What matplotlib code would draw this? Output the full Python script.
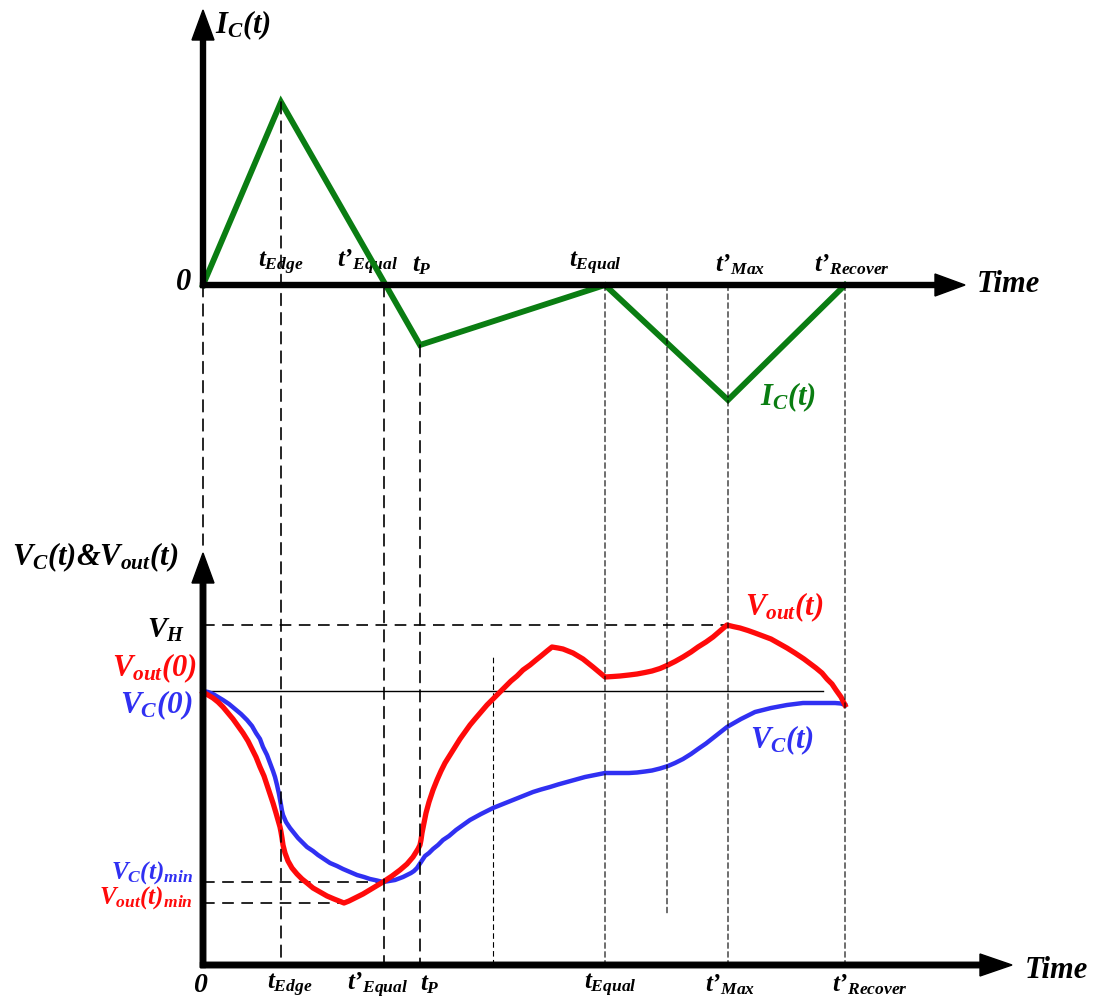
import numpy as np
import matplotlib
matplotlib.use("Agg")
import matplotlib.pyplot as plt
from matplotlib.patches import ConnectionPatch

# ---------- fonts: Times-like bold italic everywhere ----------
plt.rcParams['font.family'] = ['Liberation Serif', 'DejaVu Serif']
plt.rcParams['font.weight'] = 'bold'
plt.rcParams['font.style'] = 'italic'
plt.rcParams['mathtext.fontset'] = 'custom'
plt.rcParams['mathtext.rm'] = 'Liberation Serif:bold:italic'
plt.rcParams['mathtext.it'] = 'Liberation Serif:bold:italic'
plt.rcParams['mathtext.bf'] = 'Liberation Serif:bold:italic'

GREEN = '#0a7d12'
RED = '#ff0a0a'
BLUE = '#3030f2'

# ---------- event times ----------
t_edge = 0.78
t_equal_p = 1.81      # t'_Equal
t_p = 2.17
t_mid = 2.90
t_equal = 4.02
t_q = 4.64
t_max_p = 5.25        # t'_Max
t_recover_p = 6.42    # t'_Recover

# ---------- capacitor current ----------
ic_t = [0.0, t_edge, t_p, t_equal, t_max_p, t_recover_p]
ic_v = [0.0, 1.83, -0.60, 0.0, -1.15, 0.0]

# ---------- voltages ----------
v0 = 2.74
v_h = 3.40
vc_min = 0.83
vout_min = 0.62

vout_t = [0.00, 0.05, 0.10, 0.15, 0.20, 0.25, 0.30, 0.35, 0.40, 0.45, 0.49, 0.53,
          0.57, 0.61, 0.64, 0.67, 0.70, 0.73, 0.75, 0.77, 0.78, 0.79, 0.80, 0.82,
          0.85, 0.89, 0.94, 0.99, 1.04, 1.10, 1.17, 1.24, 1.31, 1.36, 1.41, 1.46,
          1.52, 1.60, 1.70, 1.80, 1.89, 1.97, 2.04, 2.10, 2.15, 2.17, 2.18, 2.19,
          2.21, 2.23, 2.26, 2.30, 2.34, 2.38, 2.42, 2.47, 2.52, 2.57, 2.62, 2.67,
          2.72, 2.78, 2.84, 2.90, 2.96, 3.02, 3.08, 3.14, 3.20, 3.27, 3.33, 3.38,
          3.44, 3.49, 3.55, 3.60, 3.65, 3.70, 3.75, 3.80, 3.85, 3.90, 3.96, 4.02,
          4.10, 4.17, 4.26, 4.34, 4.42, 4.49, 4.57, 4.65, 4.72, 4.80, 4.88, 4.95,
          5.03, 5.10, 5.17, 5.24, 5.30, 5.37, 5.45, 5.52, 5.60, 5.68, 5.76, 5.84,
          5.92, 6.01, 6.07, 6.13, 6.19, 6.24, 6.29, 6.33, 6.38, 6.42]
vout_v = [2.73, 2.70, 2.67, 2.63, 2.58, 2.52, 2.46, 2.39, 2.32, 2.24, 2.16, 2.08,
          1.98, 1.89, 1.80, 1.71, 1.62, 1.52, 1.45, 1.38, 1.33, 1.27, 1.20, 1.12,
          1.04, 0.97, 0.91, 0.86, 0.82, 0.77, 0.73, 0.69, 0.66, 0.64, 0.62, 0.64,
          0.67, 0.71, 0.77, 0.83, 0.89, 0.95, 1.01, 1.08, 1.16, 1.20, 1.25, 1.32,
          1.42, 1.52, 1.63, 1.75, 1.85, 1.94, 2.02, 2.10, 2.18, 2.26, 2.33, 2.40,
          2.46, 2.53, 2.60, 2.66, 2.72, 2.78, 2.84, 2.89, 2.95, 3.00, 3.05, 3.09,
          3.14, 3.18, 3.17, 3.16, 3.14, 3.12, 3.09, 3.06, 3.02, 2.98, 2.93, 2.88,
          2.885, 2.89, 2.90, 2.91, 2.925, 2.94, 2.965, 3.00, 3.035, 3.08, 3.13, 3.18,
          3.23, 3.28, 3.34, 3.40, 3.385, 3.37, 3.345, 3.32, 3.29, 3.26, 3.215, 3.17,
          3.12, 3.06, 3.015, 2.97, 2.92, 2.86, 2.81, 2.75, 2.68, 2.60]

vc_t = [0.00, 0.05, 0.10, 0.15, 0.20, 0.26, 0.32, 0.38, 0.44, 0.49, 0.53, 0.57,
        0.60, 0.64, 0.67, 0.70, 0.72, 0.74, 0.76, 0.78, 0.79, 0.80, 0.83, 0.87,
        0.91, 0.95, 1.00, 1.04, 1.10, 1.15, 1.21, 1.27, 1.34, 1.40, 1.47, 1.54,
        1.61, 1.67, 1.74, 1.80, 1.86, 1.92, 1.96, 2.00, 2.04, 2.08, 2.11, 2.14,
        2.16, 2.18, 2.20, 2.22, 2.26, 2.30, 2.35, 2.40, 2.46, 2.53, 2.60, 2.67,
        2.78, 2.90, 3.00, 3.10, 3.20, 3.30, 3.38, 3.47, 3.55, 3.64, 3.73, 3.82,
        3.92, 4.02, 4.10, 4.17, 4.26, 4.34, 4.42, 4.49, 4.57, 4.65, 4.72, 4.80,
        4.88, 4.95, 5.03, 5.10, 5.17, 5.24, 5.31, 5.38, 5.45, 5.52, 5.60, 5.68,
        5.76, 5.84, 5.92, 6.00, 6.08, 6.17, 6.25, 6.32, 6.38, 6.42]
vc_v = [2.74, 2.73, 2.71, 2.68, 2.65, 2.61, 2.56, 2.51, 2.45, 2.39, 2.32, 2.26,
        2.18, 2.10, 2.02, 1.94, 1.88, 1.80, 1.71, 1.60, 1.54, 1.50, 1.43, 1.37,
        1.32, 1.27, 1.22, 1.18, 1.14, 1.10, 1.06, 1.02, 0.99, 0.96, 0.93, 0.90,
        0.88, 0.86, 0.845, 0.83, 0.84, 0.85, 0.865, 0.88, 0.90, 0.92, 0.94, 0.97,
        1.00, 1.03, 1.06, 1.09, 1.12, 1.16, 1.20, 1.25, 1.29, 1.35, 1.40, 1.45,
        1.51, 1.57, 1.61, 1.65, 1.69, 1.73, 1.755, 1.78, 1.805, 1.83, 1.855, 1.88,
        1.90, 1.92, 1.92, 1.92, 1.92, 1.925, 1.935, 1.945, 1.965, 1.99, 2.02, 2.06,
        2.11, 2.16, 2.215, 2.27, 2.325, 2.38, 2.42, 2.46, 2.495, 2.53, 2.55, 2.57,
        2.585, 2.60, 2.61, 2.62, 2.62, 2.62, 2.62, 2.62, 2.615, 2.60]

# ---------- figure: two overlaid axes, same x scale ----------
fig = plt.figure(figsize=(10.98, 10.08), dpi=100)
ax_i = fig.add_axes([0, 0, 1, 1])
ax_v = fig.add_axes([0, 0, 1, 1])
for ax in (ax_i, ax_v):
    ax.set_xlim(-2.03, 8.95)
    ax.axis('off')
ax_i.set_ylim(-7.23, 2.85)
ax_v.set_ylim(-0.43, 9.65)

thick_dash = dict(color='k', lw=1.2, linestyle=(0, (7, 4.5)))
thin_dash = dict(color='k', lw=0.8, linestyle=(0, (5, 3)))

def vline(t, ia, vb, style):
    # dashed drop line from the current panel into the voltage panel
    con = ConnectionPatch(xyA=(t, ia), coordsA=ax_i.transData,
                          xyB=(t, vb), coordsB=ax_v.transData, **style)
    fig.add_artist(con)

vline(0.0, 0.0, 4.20, thick_dash)
vline(t_edge, 1.83, 0.0, thick_dash)
vline(t_equal_p, 0.0, 0.0, thick_dash)
vline(t_p, -0.60, 0.0, thick_dash)
vline(t_equal, 0.0, 0.0, thin_dash)
vline(t_q, 0.0, 0.50, thin_dash)
vline(t_max_p, 0.0, 0.0, thin_dash)
vline(t_recover_p, 0.0, 0.0, thin_dash)
ax_v.plot([t_mid, t_mid], [0.0, 3.10], **thin_dash)

# ---------- top panel: I_C(t) ----------
ax_i.plot(ic_t, ic_v, color=GREEN, lw=4.2, solid_joinstyle='miter', zorder=4)
ax_i.arrow(-0.025, 0, 7.645, 0, width=0.05, head_width=0.22, head_length=0.30,
           length_includes_head=True, color='k', zorder=5)
ax_i.arrow(0, -0.025, 0, 2.775, width=0.05, head_width=0.22, head_length=0.30,
           length_includes_head=True, color='k', zorder=5)

ax_i.text(0.12, 2.60, r'$I_C(t)$', fontsize=22, ha='left', va='center')
ax_i.text(-0.19, 0.02, '0', fontsize=22, ha='center', va='center')
ax_i.text(7.74, 0.0, 'Time', fontsize=22, ha='left', va='center')
top_labels = [(t_edge, r'$t_{Edge}$'), (1.65, r'$t’_{Equal}$'), (2.19, r'$t_P$'),
              (3.92, r'$t_{Equal}$'), (5.37, r'$t’_{Max}$'), (6.49, r'$t’_{Recover}$')]
for x, s in top_labels:
    ax_i.text(x, 0.08, s, fontsize=18, ha='center', va='bottom')
ax_i.text(5.57, -1.12, r'$I_C(t)$', fontsize=22, color=GREEN, ha='left', va='center')

# ---------- bottom panel: V_C(t) and V_out(t) ----------
ax_v.plot([0, 6.20], [v0, v0], color='k', lw=1.0)
ax_v.plot([0, t_max_p], [v_h, v_h], **thick_dash)
ax_v.plot([0, t_equal_p], [vc_min, vc_min], **thick_dash)
ax_v.plot([0, 1.38], [vout_min, vout_min], **thick_dash)

ax_v.plot(vc_t, vc_v, color=BLUE, lw=3.2, solid_joinstyle='round', zorder=3)
ax_v.plot(vout_t, vout_v, color=RED, lw=3.8, solid_joinstyle='round', zorder=4)

ax_v.arrow(-0.025, 0, 8.115, 0, width=0.055, head_width=0.22, head_length=0.32,
           length_includes_head=True, color='k', zorder=5)
ax_v.arrow(0, -0.025, 0, 4.145, width=0.055, head_width=0.22, head_length=0.30,
           length_includes_head=True, color='k', zorder=5)

ax_v.text(-1.91, 4.08, r'$V_C(t)$&$V_{out}(t)$', fontsize=22, ha='left', va='center')
ax_v.text(-0.18, 3.35, r'$V_H$', fontsize=21, ha='right', va='center')
ax_v.text(-0.06, 2.97, r'$V_{out}(0)$', fontsize=22, color=RED, ha='right', va='center')
ax_v.text(-0.10, 2.60, r'$V_C(0)$', fontsize=22.5, color=BLUE, ha='right', va='center')
ax_v.text(-0.10, 0.92, r'$V_C(t)_{min}$', fontsize=18, color=BLUE, ha='right', va='center')
ax_v.text(-0.10, 0.67, r'$V_{out}(t)_{min}$', fontsize=18, color=RED, ha='right', va='center')
ax_v.text(-0.03, -0.20, '0', fontsize=20, ha='center', va='center')
ax_v.text(8.22, -0.05, 'Time', fontsize=22, ha='left', va='center')
bottom_labels = [(0.87, r'$t_{Edge}$'), (1.75, r'$t’_{Equal}$'), (2.27, r'$t_P$'),
                 (4.07, r'$t_{Equal}$'), (5.27, r'$t’_{Max}$'), (6.67, r'$t’_{Recover}$')]
for x, s in bottom_labels:
    ax_v.text(x, -0.20, s, fontsize=18, ha='center', va='center')
ax_v.text(5.42, 3.58, r'$V_{out}(t)$', fontsize=22, color=RED, ha='left', va='center')
ax_v.text(5.47, 2.25, r'$V_C(t)$', fontsize=22, color=BLUE, ha='left', va='center')

fig.savefig('out.png', dpi=100)
